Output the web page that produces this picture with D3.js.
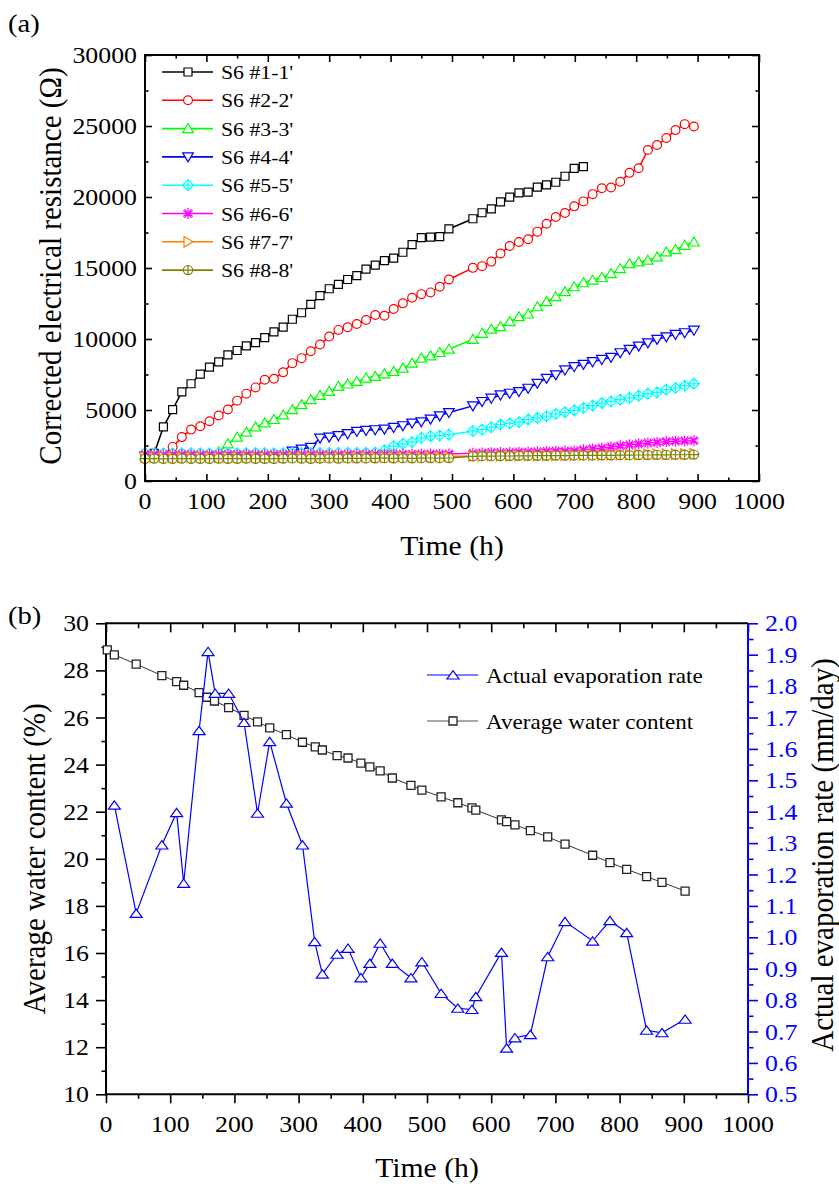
<!DOCTYPE html>
<html><head><meta charset="utf-8">
<script src="https://cdn.jsdelivr.net/npm/d3@7"></script>
<style>body{margin:0;background:#fff} text{font-family:"Liberation Serif","Times New Roman",serif}</style>
</head><body><svg id="c" width="839" height="1184"></svg>
<script>
// ---------- DATA (panel a) ----------
const timeA = [0,15,30,45,60,75,90,105,120,135,150,165,180,195,210,225,240,255,270,285,300,315,330,345,360,375,390,405,420,435,450,465,480,495,534,549,564,579,594,609,624,639,654,669,684,699,714,729,744,759,774,789,804,819,834,849,864,879,894];
const seriesNames = ["S6 #1-1'","S6 #2-2'","S6 #3-3'","S6 #4-4'","S6 #5-5'","S6 #6-6'","S6 #7-7'","S6 #8-8'"];
const s1 = [1700,1950,3810,5030,6270,6850,7530,8020,8390,8880,9190,9520,9750,10100,10500,10830,11390,11850,12440,13050,13540,13840,14190,14470,14920,15200,15520,15690,16110,16650,17140,17180,17210,17750,18470,18890,19170,19660,19990,20290,20340,20690,20860,21040,21460,22020,22140];
const s2 = [1750,1800,1850,2400,3090,3620,3860,4210,4610,5030,5660,6150,6590,7130,7200,7650,8300,8650,9140,9610,10170,10640,10830,11060,11340,11690,11640,12110,12510,12910,13160,13280,13680,14190,15010,15130,15450,16020,16550,16830,17020,17560,18120,18590,18870,19340,19690,20200,20620,20670,21070,21700,22020,23310,23660,24150,24710,25130,24970];
const s3 = [1800,1790,1780,1800,1790,1800,1810,1820,2050,2620,3090,3440,3810,4090,4330,4650,5030,5380,5730,6030,6310,6660,6830,7010,7250,7370,7550,7720,7950,8300,8650,8810,9050,9280,9980,10400,10690,10870,11220,11570,11760,12270,12630,12980,13330,13680,13960,14150,14330,14610,14960,15310,15430,15550,15780,16130,16300,16600,16830];
const s4 = [1760,1750,1740,1760,1750,1740,1750,1760,1750,1740,1750,1760,1750,1760,1770,1780,2100,2250,2370,3020,3090,3190,3330,3490,3560,3610,3650,3770,3890,4080,4170,4360,4590,4820,5290,5600,5830,6060,6180,6300,6530,6880,7230,7470,7820,8050,8210,8400,8560,8710,9030,9270,9500,9730,9970,10150,10320,10440,10620];
const s5 = [1950,1960,1950,1940,1950,1960,1950,1950,1960,1950,1950,1960,1970,1960,1950,1960,1970,1960,1970,1980,1970,1980,1990,1980,1990,2000,2150,2460,2620,2740,3040,3160,3200,3270,3510,3620,3790,3980,4050,4140,4330,4440,4560,4720,4840,4980,5140,5310,5490,5610,5730,5850,6010,6150,6240,6430,6550,6710,6850];
const s6 = [1850,1860,1840,1850,1860,1850,1840,1850,1860,1850,1850,1860,1850,1840,1850,1860,1850,1860,1870,1860,1850,1860,1870,1860,1870,1880,1870,1880,1890,1880,1890,1900,1890,1900,1950,1970,1990,2000,2010,2030,2040,2060,2080,2100,2110,2130,2200,2260,2310,2400,2480,2550,2610,2680,2720,2780,2800,2820,2840];
const s7 = [1680,1670,1690,1680,1670,1680,1690,1680,1670,1680,1690,1680,1690,1680,1670,1680,1690,1700,1690,1680,1690,1700,1690,1700,1710,1700,1690,1700,1710,1700,1710,1720,1710,1720,1760,1770,1780,1780,1790,1790,1800,1800,1810,1810,1820,1820,1830,1840,1840,1850,1860,1860,1870,1880,1880,1890,1900,1900,1910];
const s8 = [1570,1580,1560,1570,1580,1570,1560,1570,1580,1570,1570,1580,1570,1560,1570,1580,1590,1580,1570,1580,1590,1580,1590,1600,1590,1600,1610,1600,1610,1600,1610,1620,1610,1620,1740,1750,1750,1760,1760,1770,1770,1780,1780,1790,1790,1800,1800,1800,1810,1810,1820,1820,1830,1830,1840,1840,1850,1850,1860];
const xTicksA = [0,100,200,300,400,500,600,700,800,900,1000];
const yTicksA = [0,5000,10000,15000,20000,25000,30000];

// ---------- DATA (panel b) ----------
const waterTime = [2,13,47,87,110,121,145,157,169,191,215,236,255,281,306,326,337,360,377,397,411,427,446,475,492,522,548,570,576,616,624,637,661,688,715,758,785,811,842,866,902];
const waterContent = [28.87,28.66,28.27,27.78,27.52,27.37,27.06,26.86,26.70,26.42,26.09,25.81,25.56,25.27,24.95,24.75,24.62,24.38,24.28,24.06,23.90,23.73,23.43,23.12,22.92,22.63,22.38,22.16,22.07,21.65,21.58,21.44,21.20,20.93,20.62,20.15,19.84,19.55,19.24,19.00,18.63];
const evapTime = [13,47,87,110,121,145,159,170,191,215,236,255,281,306,325,337,360,377,397,411,427,446,475,492,522,548,570,576,616,624,637,661,688,715,758,785,811,842,866,902];
const evapRate = [1.421,1.076,1.294,1.397,1.172,1.658,1.910,1.777,1.777,1.684,1.395,1.623,1.427,1.294,0.986,0.883,0.946,0.965,0.871,0.917,0.981,0.917,0.871,0.922,0.821,0.774,0.770,0.811,0.952,0.647,0.680,0.690,0.938,1.050,0.988,1.053,1.015,0.704,0.696,0.739];
const xTicksB = [0,100,200,300,400,500,600,700,800,900,1000];
const yTicksBL = [10,12,14,16,18,20,22,24,26,28,30];
const yTicksBR = [0.5,0.6,0.7,0.8,0.9,1.0,1.1,1.2,1.3,1.4,1.5,1.6,1.7,1.8,1.9,2.0];

// ---------- STYLE ----------
const colors = ["#000000","#ff0000","#00ff00","#0000ff","#00ffff","#ff00ff","#ff8000","#808000"];
const shapes = ["square","circle","triUp","triDown","diamondPlus","asterisk","triRight","circlePlus"];
const SX = 1.1;
const svg = d3.select("#c");

function htext(g, x, y, str, size, anchor, fill) {
  return g.append("text").attr("transform", `translate(${x},${y}) scale(${SX},1)`)
    .attr("text-anchor", anchor).attr("font-size", size).attr("fill", fill || "#000").text(str);
}
function vtext(g, x, y, str, size, fill) {
  return g.append("text").attr("transform", `translate(${x},${y}) scale(${SX},1) rotate(-90)`)
    .attr("text-anchor", "middle").attr("font-size", size).attr("fill", fill || "#000").text(str);
}
function marker(g, shape, color, x, y, sw) {
  const m = g.append("g").attr("transform", `translate(${x},${y})`)
    .attr("fill", "#fff").attr("stroke", color).attr("stroke-width", sw || 1.2);
  switch (shape) {
    case "square": m.append("path").attr("d", "M-4,-4H4V4H-4Z"); break;
    case "circle": m.append("circle").attr("r", 4.4); break;
    case "triUp": m.append("path").attr("d", "M0,-5L5.3,4L-5.3,4Z"); break;
    case "triDown": m.append("path").attr("d", "M0,5L5.3,-4L-5.3,-4Z"); break;
    case "diamondPlus": m.append("path").attr("d", "M0,-5.5L5.5,0L0,5.5L-5.5,0Z M0,-5.5V5.5 M-5.5,0H5.5"); break;
    case "asterisk": m.append("path").attr("fill","none").attr("d", "M0,-5.5V5.5 M-4.8,-2.9L4.8,2.9 M-4.8,2.9L4.8,-2.9 M-3.5,-4.5L3.5,4.5 M-3.5,4.5L3.5,-4.5"); break;
    case "triRight": m.append("path").attr("d", "M5,0L-4,-5.3L-4,5.3Z"); break;
    case "circlePlus": m.append("path").attr("d", "M4.6,0A4.6,4.6 0 1 1 -4.6,0A4.6,4.6 0 1 1 4.6,0Z M0,-4.6V4.6 M-4.6,0H4.6"); break;
  }
  return m;
}

// ================= PANEL A =================
{
  const L = 145, R = 759, Tp = 55, B = 481;
  const x = d3.scaleLinear([0, 1000], [L, R]);
  const y = d3.scaleLinear([0, 30000], [B, Tp]);
  const g = svg.append("g");
  const tickStyle = sel => { sel.select(".domain").remove(); sel.selectAll("line").attr("stroke", "#000").attr("stroke-width", 1.6); sel.selectAll("text").remove(); };
  const minorX = d3.range(50, 1000, 100), minorY = d3.range(2500, 30000, 5000);
  g.append("g").attr("transform", `translate(0,${B})`).call(d3.axisBottom(x).tickValues(xTicksA).tickSize(-7)).call(tickStyle);
  g.append("g").attr("transform", `translate(0,${B})`).call(d3.axisBottom(x).tickValues(minorX).tickSize(-3.5)).call(tickStyle);
  g.append("g").attr("transform", `translate(0,${Tp})`).call(d3.axisTop(x).tickValues(xTicksA).tickSize(-7)).call(tickStyle);
  g.append("g").attr("transform", `translate(0,${Tp})`).call(d3.axisTop(x).tickValues(minorX).tickSize(-3.5)).call(tickStyle);
  g.append("g").attr("transform", `translate(${L},0)`).call(d3.axisLeft(y).tickValues(yTicksA).tickSize(-7)).call(tickStyle);
  g.append("g").attr("transform", `translate(${L},0)`).call(d3.axisLeft(y).tickValues(minorY).tickSize(-3.5)).call(tickStyle);
  g.append("g").attr("transform", `translate(${R},0)`).call(d3.axisRight(y).tickValues(yTicksA).tickSize(-7)).call(tickStyle);
  g.append("g").attr("transform", `translate(${R},0)`).call(d3.axisRight(y).tickValues(minorY).tickSize(-3.5)).call(tickStyle);

  const series = [s1, s2, s3, s4, s5, s6, s7, s8];
  const line = d3.line().x(d => x(d[0])).y(d => y(d[1]));
  series.forEach((s, i) => {
    const pts = s.map((v, k) => [timeA[k], v]);
    g.append("path").attr("d", line(pts)).attr("fill", "none").attr("stroke", colors[i]).attr("stroke-width", 1.5);
    const mg = g.append("g");
    pts.forEach(p => marker(mg, shapes[i], colors[i], x(p[0]), y(p[1])));
  });

  g.append("rect").attr("x", L).attr("y", Tp).attr("width", R - L).attr("height", B - Tp)
    .attr("fill", "none").attr("stroke", "#000").attr("stroke-width", 2);

  xTicksA.forEach(v => htext(g, x(v), 509, String(v), 23.5, "middle"));
  yTicksA.forEach(v => htext(g, 137, y(v) + 8, String(v), 23.5, "end"));
  htext(g, (L + R) / 2, 555, "Time (h)", 27, "middle");
  vtext(g, 61, 266, "Corrected electrical resistance (Ω)", 29);
  htext(g, 8, 32, "(a)", 26, "start");

  // legend
  seriesNames.forEach((n, i) => {
    const yy = 72 + i * 28.3;
    g.append("line").attr("x1", 162).attr("x2", 213).attr("y1", yy).attr("y2", yy).attr("stroke", colors[i]).attr("stroke-width", 1.6);
    marker(g, shapes[i], colors[i], 188, yy);
    htext(g, 221, yy + 7, n, 19.8, "start");
  });
}

// ================= PANEL B =================
{
  const L = 106, R = 748, Tp = 623.3, B = 1094.3;
  const x = d3.scaleLinear([0, 1000], [L, R]);
  const yl = d3.scaleLinear([10, 30], [B, Tp]);
  const yr = d3.scaleLinear([0.5, 2.0], [B, Tp]);
  const g = svg.append("g");
  const blue = "#0000ff";
  const tickStyle = c => sel => { sel.select(".domain").remove(); sel.selectAll("line").attr("stroke", c).attr("stroke-width", 1.6); sel.selectAll("text").remove(); };
  const minorX = d3.range(50, 1000, 100);
  const minorL = d3.range(11, 30, 2);
  const minorR = d3.range(0.55, 2.0, 0.1);
  g.append("g").attr("transform", `translate(0,${B})`).call(d3.axisBottom(x).tickValues(xTicksB).tickSize(9)).call(tickStyle("#000"));
  g.append("g").attr("transform", `translate(0,${B})`).call(d3.axisBottom(x).tickValues(minorX).tickSize(4.5)).call(tickStyle("#000"));
  g.append("g").attr("transform", `translate(0,${Tp})`).call(d3.axisTop(x).tickValues(xTicksB).tickSize(-9)).call(tickStyle("#000"));
  g.append("g").attr("transform", `translate(0,${Tp})`).call(d3.axisTop(x).tickValues(minorX).tickSize(-5)).call(tickStyle("#000"));
  g.append("g").attr("transform", `translate(${L},0)`).call(d3.axisLeft(yl).tickValues(yTicksBL).tickSize(10)).call(tickStyle("#000"));
  g.append("g").attr("transform", `translate(${L},0)`).call(d3.axisLeft(yl).tickValues(minorL).tickSize(4.5)).call(tickStyle("#000"));
  g.append("g").attr("transform", `translate(${R},0)`).call(d3.axisRight(yr).tickValues(yTicksBR).tickSize(10)).call(tickStyle(blue));
  g.append("g").attr("transform", `translate(${R},0)`).call(d3.axisRight(yr).tickValues(minorR).tickSize(5.5)).call(tickStyle(blue));

  g.append("path").attr("d", `M${R},${Tp}H${L}V${B}H${R}`).attr("fill", "none").attr("stroke", "#000").attr("stroke-width", 2);
  g.append("line").attr("x1", R).attr("x2", R).attr("y1", Tp).attr("y2", B).attr("stroke", blue).attr("stroke-width", 2);

  // water content
  const wPts = waterTime.map((t, k) => [t, waterContent[k]]);
  g.append("path").attr("d", d3.line().x(d => x(d[0])).y(d => yl(d[1]))(wPts))
    .attr("fill", "none").attr("stroke", "#333").attr("stroke-width", 1);
  const wg = g.append("g");
  wPts.forEach(p => marker(wg, "square", "#222", x(p[0]), yl(p[1]), 1.3));

  // evaporation
  const ePts = evapTime.map((t, k) => [t, evapRate[k]]);
  g.append("path").attr("d", d3.line().x(d => x(d[0])).y(d => yr(d[1]))(ePts))
    .attr("fill", "none").attr("stroke", blue).attr("stroke-width", 1.2);
  const eg = g.append("g");
  ePts.forEach(p => {
    eg.append("path").attr("transform", `translate(${x(p[0])},${yr(p[1])})`)
      .attr("d", "M0,-4.3L6,4L-6,4Z").attr("fill", "#fff").attr("stroke", blue).attr("stroke-width", 1.2);
  });

  xTicksB.forEach(v => htext(g, x(v), 1132, String(v), 23.5, "middle"));
  yTicksBL.forEach(v => htext(g, 89, yl(v) + 8, String(v), 23.5, "end"));
  yTicksBR.forEach(v => htext(g, 765, yr(v) + 8, v.toFixed(1), 23.5, "start", blue));
  htext(g, (L + R) / 2, 1177, "Time (h)", 27, "middle");
  vtext(g, 45, (Tp + B) / 2, "Average water content (%)", 29);
  vtext(g, 833, 855, "Actual evaporation rate (mm/day)", 29);
  htext(g, 8, 624, "(b)", 26, "start");

  // legend
  const ly1 = 675, ly2 = 721;
  g.append("line").attr("x1", 427).attr("x2", 478).attr("y1", ly1).attr("y2", ly1).attr("stroke", blue).attr("stroke-width", 1.2);
  g.append("path").attr("transform", `translate(453,${ly1})`).attr("d", "M0,-4.3L6,4L-6,4Z").attr("fill", "#fff").attr("stroke", blue).attr("stroke-width", 1.2);
  htext(g, 486, ly1 + 7.5, "Actual evaporation rate", 21, "start");
  g.append("line").attr("x1", 427).attr("x2", 478).attr("y1", ly2).attr("y2", ly2).attr("stroke", "#555").attr("stroke-width", 1.2);
  marker(g, "square", "#222", 453, ly2, 1.3);
  htext(g, 486, ly2 + 7.5, "Average water content", 21, "start");
}
</script></body></html>
